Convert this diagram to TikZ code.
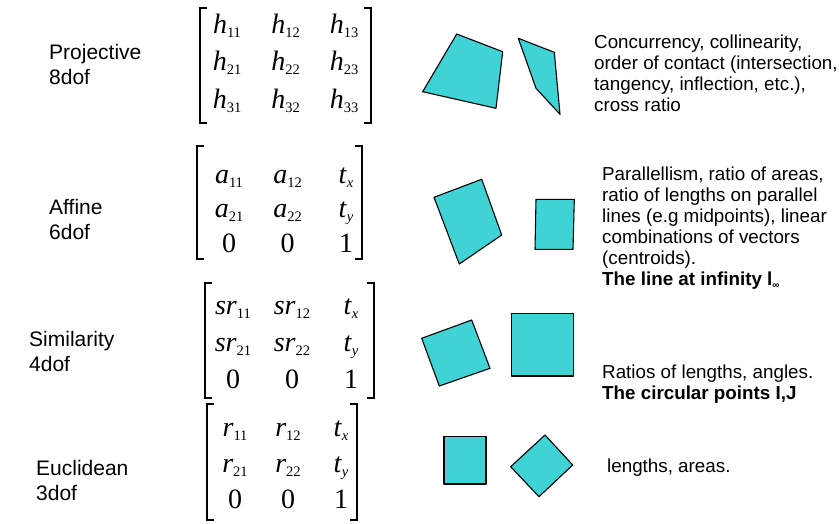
\documentclass[tikz,border=0pt]{standalone}
\usepackage{fontspec}
\setmainfont{Liberation Sans}
\newfontfamily\tms{Liberation Serif}
\usetikzlibrary{positioning}
\definecolor{shapefill}{RGB}{64,211,214}
\tikzstyle{kind} = [anchor=base west, align=left, inner sep=0pt, font=\fontsize{21}{25}\selectfont]
\tikzstyle{prop} = [anchor=base west, align=left, inner sep=0pt, font=\fontsize{18.8}{21}\selectfont]
\tikzstyle{entry} = [anchor=base, inner sep=0pt, font=\tms\fontsize{28}{28}\selectfont]
\tikzstyle{shp} = [draw=black, fill=shapefill, line width=1.1pt, line join=round]
\tikzstyle{bracket} = [line width=1.3pt]
\newcommand{\ment}[2]{\textit{#1}\raisebox{-4pt}{\fontsize{14.5}{14.5}\selectfont #2}}
\newcommand{\mbrk}[4]{%
  \draw[bracket] ({#1+7},#3) -| (#1,#4) -- ({#1+7},#4);
  \draw[bracket] ({#2-7},#3) -| (#2,#4) -- ({#2-7},#4);}

\begin{document}
\begin{tikzpicture}[x=1pt, y=-1pt]
    \useasboundingbox (0,0) rectangle (839,523);

    % transformation classes (base = last line)
    \node[kind] (proj) at (49,84) {Projective\\8dof};
    \node[kind] (aff) at (49,239) {Affine\\6dof};
    \node[kind] (sim) at (29,371) {Similarity\\4dof};
    \node[kind] (euc) at (36,500) {Euclidean\\3dof};

    % matrices
    \foreach \e [count=\idx from 0] in {{\ment{h}{11}},{\ment{h}{12}},{\ment{h}{13}},
        {\ment{h}{21}},{\ment{h}{22}},{\ment{h}{23}},{\ment{h}{31}},{\ment{h}{32}},{\ment{h}{33}}} {
      \pgfmathtruncatemacro{\ri}{div(\idx,3)}
      \pgfmathtruncatemacro{\ci}{mod(\idx,3)}
      \node[entry] (hp\ri\ci) at ({227+58.5*\ci},{33+37.5*\ri}) {\e};
    }
    \mbrk{200}{371}{8}{123}

    \foreach \e [count=\idx from 0] in {{\ment{a}{11}},{\ment{a}{12}},{\ment{t}{\textit{x}}},
        {\ment{a}{21}},{\ment{a}{22}},{\ment{t}{\textit{y}}},0,0,1} {
      \pgfmathtruncatemacro{\ri}{div(\idx,3)}
      \pgfmathtruncatemacro{\ci}{mod(\idx,3)}
      \node[entry] (ha\ri\ci) at ({229+58.5*\ci},{183+34.5*\ri}) {\e};
    }
    \mbrk{197}{362}{146}{259}

    \foreach \e [count=\idx from 0] in {{\ment{sr}{11}},{\ment{sr}{12}},{\ment{t}{\textit{x}}},
        {\ment{sr}{21}},{\ment{sr}{22}},{\ment{t}{\textit{y}}},0,0,1} {
      \pgfmathtruncatemacro{\ri}{div(\idx,3)}
      \pgfmathtruncatemacro{\ci}{mod(\idx,3)}
      \node[entry] (hs\ri\ci) at ({233+59*\ci},{314+37*\ri}) {\e};
    }
    \mbrk{205}{374}{283}{398}

    \foreach \e [count=\idx from 0] in {{\ment{r}{11}},{\ment{r}{12}},{\ment{t}{\textit{x}}},
        {\ment{r}{21}},{\ment{r}{22}},{\ment{t}{\textit{y}}},0,0,1} {
      \pgfmathtruncatemacro{\ri}{div(\idx,3)}
      \pgfmathtruncatemacro{\ci}{mod(\idx,3)}
      \node[entry] (he\ri\ci) at ({235+53*\ci},{436+36*\ri}) {\e};
    }
    \mbrk{207}{357}{404}{520}

    % example shapes
    \draw[shp] (456.7,34) -- (502.7,51.7) -- (496,108.3) -- (422.7,91.7) -- cycle;
    \draw[shp] (518.3,38.3) -- (554.3,52.3) -- (560,114.3) -- (536,88.3) -- cycle;
    \draw[shp] (434,197.3) -- (481.7,179.3) -- (501.7,235) -- (459.3,264) -- cycle;
    \draw[shp] (536,199.3) -- (574.3,199.3) -- (573,249.3) -- (535,249.3) -- cycle;
    \draw[shp] (421.7,338.3) -- (471.7,320) -- (490,368.3) -- (439.3,386) -- cycle;
    \draw[shp] (511.7,313.3) rectangle (573.3,376);
    \draw[shp] (444,436.7) rectangle (486,484);
    \draw[shp] (545,435) -- (572.7,465) -- (539,496.7) -- (510.7,466.7) -- cycle;

    % invariants (base = last line)
    \node[prop] (invp) at (594,111) {Concurrency, collinearity,\\order of contact (intersection,\\tangency, inflection, etc.),\\cross ratio};
    \node[prop] (inva) at (602,285) {Parallellism, ratio of areas,\\ratio of lengths on parallel\\lines (e.g midpoints), linear\\combinations of vectors\\(centroids).\\\textbf{The line at infinity l\raisebox{-3pt}{\fontsize{10}{10}\selectfont ∞}}};
    \node[prop] (invs) at (602,399) {Ratios of lengths, angles.\\\textbf{The circular points I,J}};
    \node[prop] (inve) at (607,472) {lengths, areas.};
\end{tikzpicture}
\end{document}
